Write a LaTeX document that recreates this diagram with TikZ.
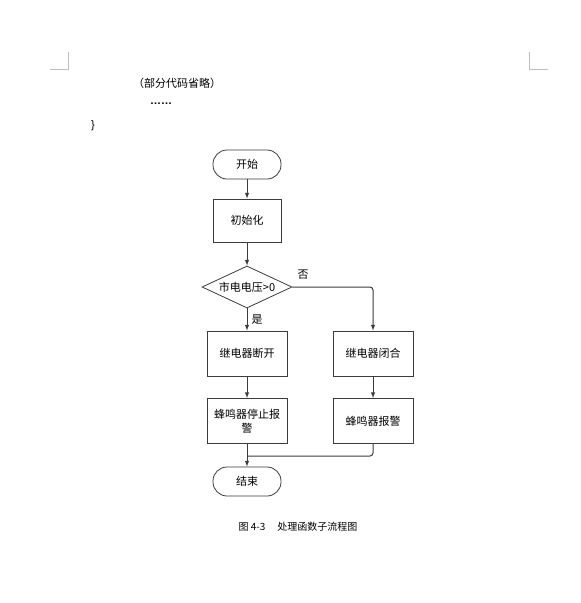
\documentclass[tikz,border=0pt]{standalone}
\usepackage{fontspec}
\setmainfont{Noto Sans CJK SC}
\newfontfamily\latinfont{Liberation Sans}
\usetikzlibrary{shapes.geometric}
\definecolor{linegray}{RGB}{60,60,60}
\definecolor{markgray}{RGB}{190,190,190}

\begin{document}
\begin{tikzpicture}[>=latex, x=1pt, y=-1pt]
        % Styles
        \tikzstyle{term} = [rectangle, draw=linegray, line width=0.8pt,
                            rounded corners=14pt, minimum height=29pt,
                            minimum width=68pt, align=center, font=\fontsize{11}{13}\selectfont]
        \tikzstyle{block} = [rectangle, draw=linegray, line width=0.8pt,
                             minimum height=45pt, minimum width=80pt,
                             align=center, font=\fontsize{11}{14}\selectfont]
        \tikzstyle{decision} = [diamond, draw=linegray, line width=0.8pt, inner sep=0pt,
                                minimum width=90pt, minimum height=42pt, shape aspect=2.14,
                                font=\fontsize{11}{13}\selectfont]
        \tikzstyle{arrow} = [->, draw=linegray, line width=1pt]
        \tikzstyle{label} = [font=\fontsize{11}{13}\selectfont]

        \useasboundingbox (0,0) rectangle (581,603);

        % ==== Page marks and text above ====
        \draw[markgray, line width=0.6pt] (50,69) -- (68,69) -- (68,52);
        \draw[markgray, line width=0.6pt] (529,52) -- (529,69) -- (548,69);
        \node[label] (note)  at (177,83)  {（部分代码省略）};
        \node[label, anchor=base, font=\latinfont\fontsize{11}{13}\selectfont\bfseries] (dots) at (161,104) {……};
        \node[label, font=\latinfont\fontsize{11}{13}\selectfont] (brace) at (93,126) {\}};

        % ==== Nodes ====
        \node[term]     (start)     at (247,164.5) {开始};
        \node[block, minimum width=68pt, minimum height=43pt] (init) at (247,220.5) {初始化};
        \node[decision] (cond)      at (247,287)   {市电电压>0};
        \node[block]    (open)      at (247,353.5) {继电器断开};
        \node[block]    (close)     at (373,353.5) {继电器闭合};
        \node[block]    (stopalarm) at (247,421)   {蜂鸣器停止报\\警};
        \node[block]    (alarm)     at (373,421)   {蜂鸣器报警};
        \node[term]     (finish)    at (247,481.5) {结束};
        \coordinate     (merge)     at (247,456);

        \node[label] (no)  at (303,275) {否};
        \node[label] (yes) at (257,320) {是};

        \node[font=\fontsize{10}{12}\selectfont] (caption) at (298,527) {图 4-3\hspace{1.2em}处理函数子流程图};

        % ==== Arrows ====
        \draw[arrow] (start) -- (init);
        \draw[arrow] (init) -- (cond);
        \draw[arrow] (cond) -- (open);
        \draw[arrow, rounded corners=3pt] (cond.east) -| (close.north);
        \draw[arrow] (open) -- (stopalarm);
        \draw[arrow] (close) -- (alarm);

        % Merge toward end
        \draw[arrow] (stopalarm) -- (finish);
        \draw[draw=linegray, line width=1pt, rounded corners=3pt] (alarm.south) |- (merge);
\end{tikzpicture}
\end{document}
